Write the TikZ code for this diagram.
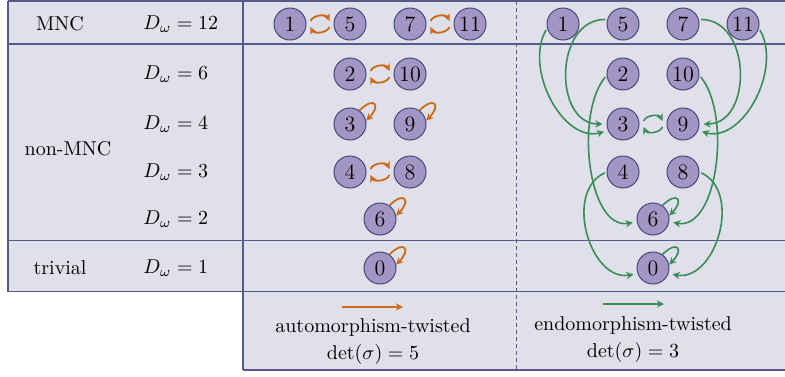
\documentclass[tikz,border=0pt]{standalone}
\usepackage{amsmath}
\usepackage{amssymb}
\usepackage{xcolor}
\usepackage{tikz}
\usetikzlibrary{positioning,arrows.meta}

\definecolor{cellbg}{RGB}{224,224,234}
\definecolor{tabline}{RGB}{88,88,140}
\definecolor{nodefill}{RGB}{162,150,196}
\definecolor{nodeline}{RGB}{70,70,125}
\definecolor{autcol}{RGB}{204,108,20}
\definecolor{endocol}{RGB}{58,140,88}

\begin{document}
\begin{tikzpicture}[
    x=0.5pt,y=-0.5pt,
    ->,>={Stealth[length=3.6pt,width=3.6pt]},
    node distance=30pt,
    num/.style={circle,draw=nodeline,fill=nodefill,minimum size=16pt,inner sep=0pt,
        line width=0.5pt,font=\fontsize{11}{13}\selectfont},
    dlab/.style={anchor=west,inner sep=0pt},
    cell/.style={-,fill=cellbg},
    tabrule/.style={-,draw=tabline,line width=0.8pt},
    aut/.style={draw=autcol,line width=0.9pt},
    endo/.style={draw=endocol,line width=0.8pt},
    endolong/.style={endo,shorten >=2pt,shorten <=1pt},
    fixed/.style={out=45,in=45,looseness=4.5,shorten >=1pt}
]
    \useasboundingbox (0,0) rectangle (785,376);

    % Table
    \path[cell] (8,1) rectangle (785,291.5);
    \path[cell] (243,291.5) rectangle (785,370);
    \draw[tabrule] (8,1) -- (785,1);
    \draw[tabrule] (8,44) -- (785,44);
    \draw[tabrule] (8,240.5) -- (785,240.5);
    \draw[tabrule] (8,291.5) -- (785,291.5);
    \draw[tabrule] (243,370) -- (785,370);
    \draw[tabrule] (8,1) -- (8,291.5);
    \draw[tabrule] (243,1) -- (243,370);
    \draw[tabrule,line width=0.5pt,dash pattern=on 2pt off 1.5pt] (516,1) -- (516,370);

    % Row labels
    \node (MNC) at (60,24) {MNC};
    \node (NONMNC) at (68,149) {non-MNC};
    \node (TRIV) at (60,268) {trivial};
    \node[dlab] (D12) at (143,24) {$D_\omega=12$};
    \node[dlab] (D6) at (143,74) {$D_\omega=6$};
    \node[dlab] (D4) at (143,124) {$D_\omega=4$};
    \node[dlab] (D3) at (143,172) {$D_\omega=3$};
    \node[dlab] (D2) at (143,219) {$D_\omega=2$};
    \node[dlab] (D1) at (143,268) {$D_\omega=1$};

    % Automorphism-twisted
    \node[num] (A1) at (290,24) {1};
    \node[num] (A5) [right of=A1] {5};
    \node[num] (A7) [right of=A5] {7};
    \node[num] (A11) [right of=A7] {11};
    \node[num] (A2) at (350,74) {2};
    \node[num] (A10) [right of=A2] {10};
    \node[num] (A3) at (350,124) {3};
    \node[num] (A9) [right of=A3] {9};
    \node[num] (A4) at (350,172) {4};
    \node[num] (A8) [right of=A4] {8};
    \node[num] (A6) at (380,219) {6};
    \node[num] (A0) at (380,268) {0};

    % Endomorphism-twisted
    \node[num] (E1) at (563,24) {1};
    \node[num] (E5) [right of=E1] {5};
    \node[num] (E7) [right of=E5] {7};
    \node[num] (E11) [right of=E7] {11};
    \node[num] (E2) at (623,74) {2};
    \node[num] (E10) [right of=E2] {10};
    \node[num] (E3) at (623,124) {3};
    \node[num] (E9) [right of=E3] {9};
    \node[num] (E4) at (623,172) {4};
    \node[num] (E8) [right of=E4] {8};
    \node[num] (E6) at (653,219) {6};
    \node[num] (E0) at (653,268) {0};

    % Swaps
    \draw[aut] ([shift={(2pt,1.5pt)}]A1.east) to[bend left=65] ([shift={(-2pt,1.5pt)}]A5.west);
    \draw[aut] ([shift={(-2pt,-1.5pt)}]A5.west) to[bend left=65] ([shift={(2pt,-1.5pt)}]A1.east);
    \draw[aut] ([shift={(2pt,1.5pt)}]A7.east) to[bend left=65] ([shift={(-2pt,1.5pt)}]A11.west);
    \draw[aut] ([shift={(-2pt,-1.5pt)}]A11.west) to[bend left=65] ([shift={(2pt,-1.5pt)}]A7.east);
    \draw[aut] ([shift={(2pt,1.5pt)}]A2.east) to[bend left=65] ([shift={(-2pt,1.5pt)}]A10.west);
    \draw[aut] ([shift={(-2pt,-1.5pt)}]A10.west) to[bend left=65] ([shift={(2pt,-1.5pt)}]A2.east);
    \draw[aut] ([shift={(2pt,1.5pt)}]A4.east) to[bend left=65] ([shift={(-2pt,1.5pt)}]A8.west);
    \draw[aut] ([shift={(-2pt,-1.5pt)}]A8.west) to[bend left=65] ([shift={(2pt,-1.5pt)}]A4.east);
    \draw[endo] ([shift={(2pt,1.5pt)}]E3.east) to[bend left=65] ([shift={(-2pt,1.5pt)}]E9.west);
    \draw[endo] ([shift={(-2pt,-1.5pt)}]E9.west) to[bend left=65] ([shift={(2pt,-1.5pt)}]E3.east);

    % Fixed points
    \draw[aut] (A3.55) to[fixed] (A3.12);
    \draw[aut] (A9.55) to[fixed] (A9.12);
    \draw[aut] (A6.55) to[fixed] (A6.12);
    \draw[aut] (A0.55) to[fixed] (A0.12);
    \draw[endo] (E6.55) to[fixed] (E6.12);
    \draw[endo] (E0.55) to[fixed] (E0.12);

    % Endomorphism maps
    \draw[endolong] (E1.195) to[out=240,in=195] (E3.204);
    \draw[endolong] (E5.164) to[out=180,in=180,looseness=1.3] (E3.180);
    \draw[endolong] (E7.16) to[out=0,in=0,looseness=1.3] (E9.0);
    \draw[endolong] (E11.-15) to[out=-60,in=-15] (E9.-24);
    \draw[endolong] (E2.185) to[out=230,in=190,looseness=0.85] (E6.190);
    \draw[endolong] (E10.-5) to[out=-50,in=-10,looseness=0.85] (E6.-10);
    \draw[endolong] (E4.180) to[out=205,in=190,looseness=1.15] (E0.200);
    \draw[endolong] (E8.0) to[out=-25,in=-10,looseness=1.15] (E0.-20);

    % Legend
    \coordinate (autL) at (342,307);
    \coordinate (autR) at (403,307);
    \draw[aut] (autL) -- (autR);
    \node[align=center] (AUT) at (373,342) {automorphism-twisted\\[1.5pt]$\det(\sigma)=5$};
    \coordinate (endoL) at (603,304);
    \coordinate (endoR) at (664,304);
    \draw[endo] (endoL) -- (endoR);
    \node[align=center] (ENDO) at (633,340) {endomorphism-twisted\\[1.5pt]$\det(\sigma)=3$};
\end{tikzpicture}
\end{document}
